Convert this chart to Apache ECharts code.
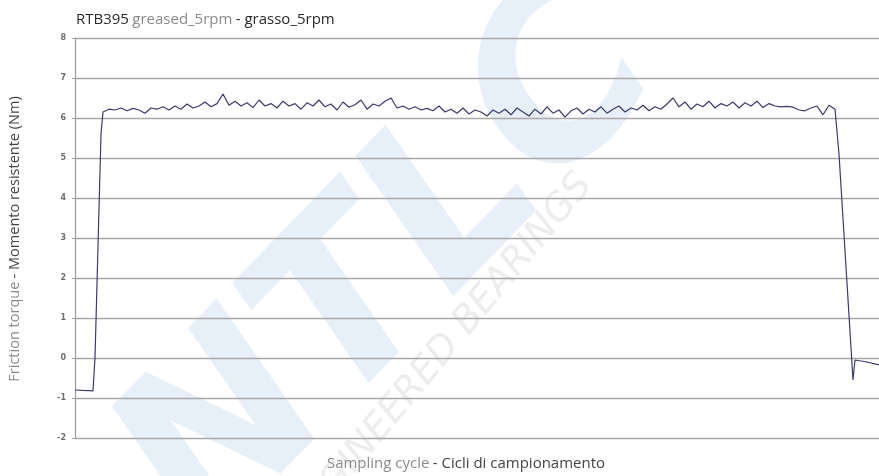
<!DOCTYPE html>
<html>
<head>
<meta charset="utf-8">
<script src="https://cdn.jsdelivr.net/npm/echarts@6/dist/echarts.min.js"></script>
<style>
html,body{margin:0;padding:0;background:#fff;}
#chart{width:879px;height:476px;}
</style>
</head>
<body>
<div id="chart"></div>
<script>
// Sampling cycle index (x) and friction torque in Nm (y)
var cycles = [0, 9, 10, 13,
  14, 17, 20, 23, 26, 29, 32, 35, 38, 41, 44, 47, 50, 53, 56, 59, 62, 65, 68, 71, 74, 77, 80, 83, 86, 89,
  92, 95, 98, 101, 104, 107, 110, 113, 116, 119, 122, 125, 128, 131, 134, 137, 140, 143, 146, 149, 152, 155, 158, 161,
  164, 167, 170, 173, 176, 179, 182, 185, 188, 191, 194, 197, 200, 203, 206, 209, 212, 215, 218, 221, 224, 227, 230, 233,
  236, 239, 242, 245, 248, 251, 254, 257, 260, 263, 266, 269, 272, 275, 278, 281, 284, 287, 290, 293, 296, 299, 302, 305,
  308, 311, 314, 317, 320, 323, 326, 329, 332, 335, 338, 341, 344, 347, 350, 353, 356, 359, 362, 365, 368, 371, 374, 377, 380,
  382, 389, 390, 396, 402];
var torque = [-0.8, -0.82, 0.0, 5.6,
  6.15, 6.22, 6.2, 6.25, 6.18, 6.24, 6.2, 6.12, 6.25, 6.22, 6.28, 6.2, 6.3, 6.22, 6.35, 6.25, 6.3, 6.4, 6.28, 6.36, 6.6, 6.32, 6.42, 6.3, 6.38, 6.26,
  6.45, 6.3, 6.36, 6.25, 6.42, 6.3, 6.36, 6.22, 6.38, 6.3, 6.45, 6.28, 6.35, 6.2, 6.4, 6.27, 6.33, 6.45, 6.22, 6.35, 6.3, 6.42, 6.5, 6.25,
  6.3, 6.22, 6.28, 6.2, 6.24, 6.18, 6.3, 6.15, 6.22, 6.12, 6.25, 6.1, 6.2, 6.15, 6.05, 6.2, 6.12, 6.22, 6.08, 6.25, 6.15, 6.05, 6.22, 6.1,
  6.28, 6.12, 6.2, 6.02, 6.18, 6.25, 6.1, 6.22, 6.15, 6.28, 6.12, 6.22, 6.3, 6.15, 6.25, 6.2, 6.32, 6.18, 6.28, 6.22, 6.35, 6.5, 6.28, 6.4,
  6.22, 6.35, 6.28, 6.42, 6.25, 6.36, 6.3, 6.4, 6.25, 6.38, 6.3, 6.42, 6.26, 6.36, 6.3, 6.28, 6.29, 6.27, 6.2, 6.18, 6.25, 6.3, 6.08, 6.32, 6.22,
  5.1, -0.55, -0.05, -0.1, -0.17];
var yTicks = [-2, -1, 0, 1, 2, 3, 4, 5, 6, 7, 8];

var points = cycles.map(function (c, i) { return [c, torque[i]]; });

var chart = echarts.init(document.getElementById('chart'));
chart.setOption({
  animation: false,
  backgroundColor: '#ffffff',
  grid: { left: 75, top: 38, right: 0, bottom: 38 },
  xAxis: {
    type: 'value', min: 0, max: 402,
    axisLine: { show: false }, axisTick: { show: false }, axisLabel: { show: false },
    splitLine: { show: false }
  },
  yAxis: {
    type: 'value', min: yTicks[0], max: yTicks[yTicks.length - 1], interval: 1,
    axisLine: { show: true, lineStyle: { color: '#9a9a9a', width: 1.2 } },
    axisTick: { show: true, length: 3, lineStyle: { color: '#9a9a9a' } },
    axisLabel: { color: '#6f6f6f', fontSize: 8, fontWeight: 'bold', margin: 9, fontFamily: 'DejaVu Sans' },
    splitLine: { show: true, lineStyle: { color: '#a8a8a8', width: 1.3 } }
  },
  series: [{
    type: 'line', data: points, showSymbol: false, symbol: 'none',
    lineStyle: { color: '#3a3a6e', width: 1.2 }, z: 5
  }],
  graphic: [
    { type: 'text', z: -20, rotation: 0.8, x: 395, y: 270,
      style: { text: 'NTLC', font: 'italic bold 230px "DejaVu Sans"', fill: '#e7eff9', textAlign: 'center', textVerticalAlign: 'middle' } },
    { type: 'text', z: -19, rotation: 0.88, x: 440, y: 355,
      style: { text: 'ENGINEERED BEARINGS', font: 'italic 38px "DejaVu Sans"', fill: '#ededed', textAlign: 'center', textVerticalAlign: 'middle' } },
    { type: 'text', x: 76, y: 20,
      style: { text: '{a|RTB395} {b|greased_5rpm} {a|- grasso_5rpm}', textVerticalAlign: 'middle',
        rich: { a: { fill: '#2a2a2a', fontSize: 15, fontFamily: 'Open Sans' }, b: { fill: '#8a8a8a', fontSize: 15, fontFamily: 'Open Sans' } } } },
    { type: 'text', x: 466, y: 464,
      style: { text: '{b|Sampling cycle} {a|- Cicli di campionamento}', textAlign: 'center', textVerticalAlign: 'middle',
        rich: { a: { fill: '#444', fontSize: 15, fontFamily: 'Open Sans' }, b: { fill: '#8a8a8a', fontSize: 15, fontFamily: 'Open Sans' } } } },
    { type: 'text', x: 15, y: 239, rotation: Math.PI / 2,
      style: { text: '{b|Friction torque} {a|- Momento resistente (Nm)}', textAlign: 'center', textVerticalAlign: 'middle',
        rich: { a: { fill: '#444', fontSize: 14.5, fontFamily: 'Open Sans' }, b: { fill: '#8a8a8a', fontSize: 14.5, fontFamily: 'Open Sans' } } } }
  ]
});
</script>
</body>
</html>
